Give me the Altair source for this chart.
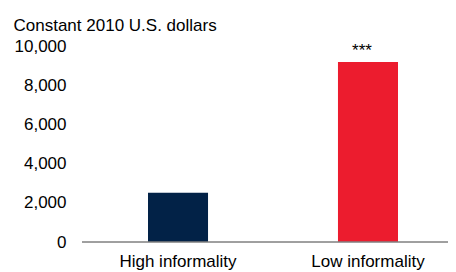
import altair as alt
import pandas as pd

categories = ["High informality", "Low informality"]
values = [2510, 9180]
stars = ["", "***"]
colors = ["#022247", "#EC1C2E"]
y_ticks = [0, 2000, 4000, 6000, 8000, 10000]

df = pd.DataFrame({"cat": categories, "val": values, "sig": stars})

FONT = "Liberation Sans"
FS = 17

x_scale = alt.Scale(range=[66, 316], paddingInner=0.684, paddingOuter=0)
y_scale = alt.Scale(domain=[0, 10000])

bars = alt.Chart(df).mark_bar().encode(
    x=alt.X(
        "cat:N", sort=categories, scale=x_scale,
        axis=alt.Axis(
            title=None, labelAngle=0, labelFontSize=FS, labelFont=FONT,
            labelColor="#000000", labelPadding=11, ticks=False,
            domain=False, grid=False,
        ),
    ),
    y=alt.Y(
        "val:Q", scale=y_scale,
        axis=alt.Axis(
            values=y_ticks, format=",.0f", labelOverlap=False,
            title="Constant 2010 U.S. dollars",
            titleAngle=0, titleAlign="left", titleBaseline="alphabetic",
            titleX=-69, titleY=-16, titleFontSize=FS, titleFont=FONT,
            titleFontWeight="normal", titleColor="#000000",
            labelFontSize=FS, labelFont=FONT, labelColor="#000000",
            labelPadding=16, ticks=False, domain=False, grid=False,
        ),
    ),
    color=alt.Color("cat:N", scale=alt.Scale(domain=categories, range=colors), legend=None),
)

labels = alt.Chart(df).mark_text(
    fontSize=17, font=FONT, baseline="alphabetic", dy=-6, dx=-6, color="#000000"
).encode(
    x=alt.X("cat:N", sort=categories, axis=None),
    y=alt.Y("val:Q", axis=None),
    text="sig:N",
)

baseline = alt.Chart(df).mark_rule(color="#808080", strokeWidth=1).encode(
    x=alt.value(0), x2=alt.value(366), y=alt.value(196)
)

chart = alt.layer(bars, baseline, labels).resolve_axis(
    x="independent", y="independent"
).properties(
    width=366, height=196,
    padding={"left": 74, "top": 38, "right": 0, "bottom": 28},
    autosize=alt.AutoSizeParams(type="none"),
).configure_view(stroke=None)

chart.save("out.html", embed_options={"renderer": "svg", "actions": False})
